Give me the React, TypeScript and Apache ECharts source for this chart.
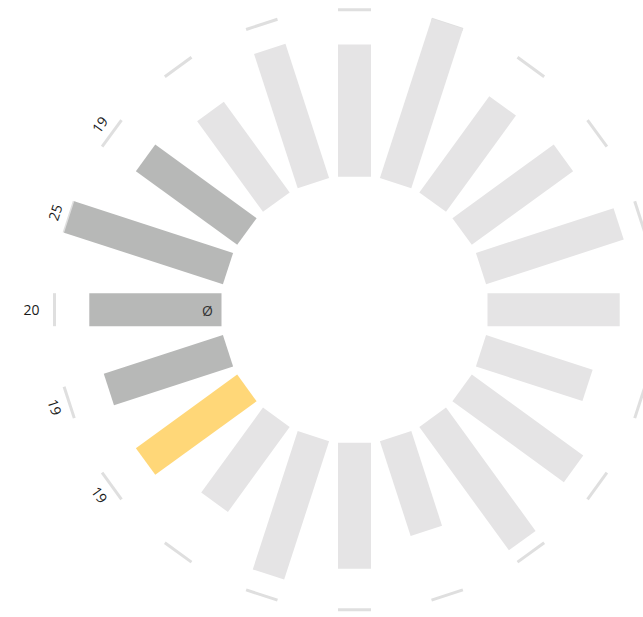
import React, { useEffect, useRef } from "react";
import * as echarts from "echarts";

// Bars listed counter-clockwise starting at the 3 o'clock position
const categories = [
  "A1", "A2", "A3", "A4", "A5", "A6", "A7", "A8", "A9", "A10",
  "A11", "A12", "A13", "A14", "A15", "A16", "A17", "A18", "A19", "A20",
];
const values = [
  20, 21.8, 19, 18.1, 25.1, 20, 21.3, 17.1, 19, 25,
  20, 19, 19, 16.1, 21.9, 19.1, 15.3, 22.9, 20.8, 17.1,
];
// 0 = base, 1 = compared group, 2 = selected
const groups = [0, 0, 0, 0, 0, 0, 0, 0, 1, 1, 1, 1, 2, 0, 0, 0, 0, 0, 0, 0];
const valueLabels = ["", "", "", "", "", "", "", "", "19", "25", "20", "19", "19", "", "", "", "", "", "", ""];
const averageIndex = 10;
const averageSymbol = "Ø";

const AXIS_MIN = 1;
const AXIS_MAX = 25;

const groupColors = ["#e5e4e5", "#b7b8b7", "#ffd778"];
const tickColor = "#dfdfdf";
const textColor = "#1a1a1a";

export default function App() {
  const ref = useRef<HTMLDivElement>(null);

  useEffect(() => {
    if (!ref.current) return;
    const chart = echarts.init(ref.current, null, { renderer: "svg" });
    const step = 360 / categories.length;
    const data = values.map((v, i) => [v, i * step]);
    const halfW = 16.5;

    const renderItem = (params: any, api: any) => {
      const i = params.dataIndex;
      const v = api.value(0);
      const ang = api.value(1);
      const p0 = api.coord([AXIS_MIN, ang]);
      const p1 = api.coord([v, ang]);
      const pm = api.coord([AXIS_MAX, ang]);
      let dx = pm[0] - p0[0];
      let dy = pm[1] - p0[1];
      const len = Math.sqrt(dx * dx + dy * dy) || 1;
      dx /= len;
      dy /= len;
      const nx = -dy * halfW;
      const ny = dx * halfW;
      const children: any[] = [];
      children.push({
        type: "line",
        shape: { x1: pm[0] + nx, y1: pm[1] + ny, x2: pm[0] - nx, y2: pm[1] - ny },
        style: { stroke: tickColor, lineWidth: 3 },
      });
      children.push({
        type: "polygon",
        shape: {
          points: [
            [p0[0] + nx, p0[1] + ny],
            [p1[0] + nx, p1[1] + ny],
            [p1[0] - nx, p1[1] - ny],
            [p0[0] - nx, p0[1] - ny],
          ],
        },
        style: { fill: groupColors[groups[i]] },
      });
      const lab = valueLabels[i];
      if (lab) {
        let rot = 0;
        if (ang > 90 && ang < 180) rot = ang - 90;
        else if (ang > 180 && ang < 270) rot = ang - 270;
        const horizontal = rot === 0;
        const off = 15;
        children.push({
          type: "text",
          x: pm[0] + dx * off,
          y: pm[1] + dy * off,
          rotation: (rot * Math.PI) / 180,
          style: {
            text: lab,
            fill: textColor,
            font: '14px "Open Sans"',
            align: horizontal ? (dx < 0 ? "right" : "left") : "center",
            verticalAlign: "middle",
          },
        });
      }
      if (i === averageIndex) {
        children.push({
          type: "text",
          x: p0[0] + dx * 14,
          y: p0[1] + dy * 14 + 1,
          style: {
            text: averageSymbol,
            fill: "#333333",
            font: '14px "Open Sans"',
            align: "center",
            verticalAlign: "middle",
          },
        });
      }
      return { type: "group", children };
    };

    chart.setOption({
      animation: false,
      backgroundColor: "#ffffff",
      polar: { center: [354.5, 309.7], radius: [133, 300] },
      angleAxis: {
        type: "value",
        min: 0,
        max: 360,
        startAngle: 0,
        clockwise: false,
        show: false,
        axisLine: { show: false },
        axisTick: { show: false },
        axisLabel: { show: false },
        splitLine: { show: false },
      },
      radiusAxis: {
        type: "value",
        min: AXIS_MIN,
        max: AXIS_MAX,
        show: false,
        axisLine: { show: false },
        axisTick: { show: false },
        axisLabel: { show: false },
        splitLine: { show: false },
      },
      series: [
        {
          type: "custom",
          coordinateSystem: "polar",
          encode: { radius: 0, angle: 1 },
          data,
          renderItem,
          clip: false,
        },
      ],
    });
    return () => chart.dispose();
  }, []);

  return (
    <div
      ref={ref}
      style={{ position: "fixed", left: 0, top: 0, width: 643, height: 617, background: "#fff" }}
    />
  );
}
